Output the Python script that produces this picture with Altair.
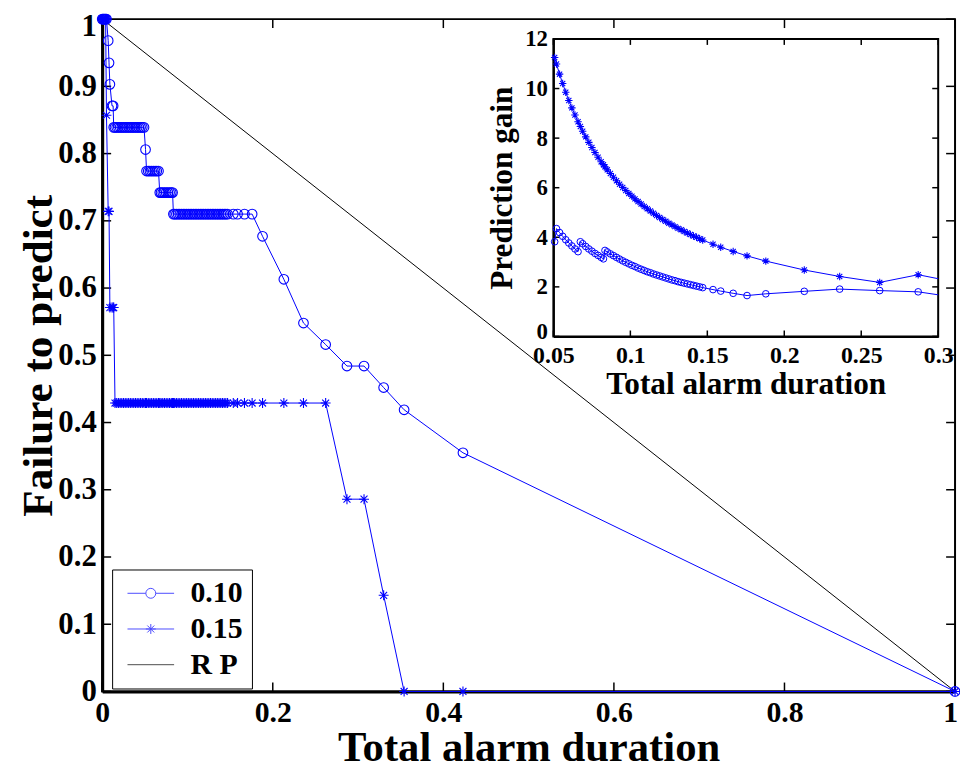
import altair as alt
import pandas as pd

# ---------------- data ----------------
alarm = [
    0.000, 0.001, 0.002, 0.003, 0.004, 0.005, 0.007, 0.008, 0.009, 0.0115, 0.0128, 0.0135,
    0.015, 0.017, 0.019, 0.021, 0.023, 0.025, 0.027, 0.029, 0.031, 0.033, 0.035, 0.037,
    0.039, 0.041, 0.043, 0.045, 0.047, 0.049,
    0.0508,
    0.052, 0.054, 0.056, 0.058, 0.060, 0.062, 0.064, 0.066,
    0.0675, 0.069, 0.071, 0.073, 0.075, 0.077, 0.079, 0.081, 0.0825,
    0.0835, 0.085, 0.087, 0.089, 0.091, 0.093, 0.095, 0.097, 0.099, 0.101, 0.103,
    0.105, 0.107, 0.109, 0.111, 0.113, 0.115, 0.117, 0.119, 0.121, 0.123, 0.125,
    0.127, 0.129, 0.131, 0.133, 0.135, 0.137, 0.139, 0.141, 0.143, 0.145, 0.147,
    0.1537, 0.1587, 0.1668, 0.1758,
    0.188, 0.213, 0.236, 0.262, 0.287, 0.307, 0.330, 0.354, 0.423, 1.000,
]

fail_010 = [
    1, 1, 1, 1, 1, 1, 0.968, 0.935, 0.903, 0.871, 0.871, 0.839,
    0.839, 0.839, 0.839, 0.839, 0.839, 0.839, 0.839, 0.839, 0.839, 0.839, 0.839, 0.839,
    0.839, 0.839, 0.839, 0.839, 0.839, 0.839,
    0.806,
    0.774, 0.774, 0.774, 0.774, 0.774, 0.774, 0.774, 0.774,
    0.742, 0.742, 0.742, 0.742, 0.742, 0.742, 0.742, 0.742, 0.742,
    0.710, 0.710, 0.710, 0.710, 0.710, 0.710, 0.710, 0.710, 0.710, 0.710, 0.710,
    0.710, 0.710, 0.710, 0.710, 0.710, 0.710, 0.710, 0.710, 0.710, 0.710, 0.710,
    0.710, 0.710, 0.710, 0.710, 0.710, 0.710, 0.710, 0.710, 0.710, 0.710, 0.710,
    0.710, 0.710, 0.710, 0.710,
    0.677, 0.613, 0.548, 0.516, 0.484, 0.484, 0.452, 0.419, 0.355, 0.0,
]

fail_015 = [
    1, 1, 1, 1, 1, 0.857, 0.714, 0.714, 0.571, 0.571, 0.571, 0.571,
    0.429, 0.429, 0.429, 0.429, 0.429, 0.429, 0.429, 0.429, 0.429, 0.429, 0.429, 0.429,
    0.429, 0.429, 0.429, 0.429, 0.429, 0.429,
    0.429,
    0.429, 0.429, 0.429, 0.429, 0.429, 0.429, 0.429, 0.429,
    0.429, 0.429, 0.429, 0.429, 0.429, 0.429, 0.429, 0.429, 0.429,
    0.429, 0.429, 0.429, 0.429, 0.429, 0.429, 0.429, 0.429, 0.429, 0.429, 0.429,
    0.429, 0.429, 0.429, 0.429, 0.429, 0.429, 0.429, 0.429, 0.429, 0.429, 0.429,
    0.429, 0.429, 0.429, 0.429, 0.429, 0.429, 0.429, 0.429, 0.429, 0.429, 0.429,
    0.429, 0.429, 0.429, 0.429,
    0.429, 0.429, 0.429, 0.429, 0.286, 0.286, 0.143, 0.0, 0.0, 0.0,
]

rp_alarm = [0.0, 1.0]
rp_fail = [1.0, 0.0]

# inset: prediction gain over the part of the alarm grid from 0.0508 to 0.307
gain_alarm = alarm[30:91]
gain_015 = [
    11.25,
    10.99, 10.58, 10.20, 9.85, 9.52, 9.22, 8.93, 8.66,
    8.47, 8.28, 8.05, 7.83, 7.62, 7.42, 7.23, 7.05, 6.93,
    6.84, 6.72, 6.57, 6.42, 6.28, 6.14, 6.01, 5.89, 5.77, 5.66, 5.55,
    5.44, 5.34, 5.24, 5.15, 5.06, 4.97, 4.88, 4.80, 4.72, 4.65, 4.57,
    4.50, 4.43, 4.36, 4.30, 4.23, 4.17, 4.11, 4.05, 4.00, 3.94, 3.89,
    3.72, 3.60, 3.43, 3.25,
    3.04, 2.68, 2.42, 2.18, 2.49, 2.33,
]
gain_010 = [
    3.82,
    4.35, 4.19, 4.04, 3.90, 3.77, 3.65, 3.53, 3.42,
    3.82, 3.74, 3.63, 3.53, 3.44, 3.35, 3.27, 3.19, 3.13,
    3.47, 3.41, 3.33, 3.26, 3.19, 3.12, 3.05, 2.99, 2.93, 2.87, 2.82,
    2.76, 2.71, 2.66, 2.61, 2.57, 2.52, 2.48, 2.44, 2.40, 2.36, 2.32,
    2.28, 2.25, 2.21, 2.18, 2.15, 2.12, 2.09, 2.06, 2.03, 2.00, 1.97,
    1.89, 1.83, 1.74, 1.65,
    1.72, 1.82, 1.91, 1.85, 1.80, 1.68,
]

series_names = ["0.10", "0.15", "R P"]
main_x_ticks = [0, 0.2, 0.4, 0.6, 0.8, 1]
main_y_ticks = [0, 0.1, 0.2, 0.3, 0.4, 0.5, 0.6, 0.7, 0.8, 0.9, 1]
inset_x_ticks = [0.05, 0.1, 0.15, 0.2, 0.25, 0.3]
inset_y_ticks = [0, 2, 4, 6, 8, 10, 12]

# ---------------- layout / style ----------------
W, H = 860, 678
IX0, IX1 = 455, 843      # inset plot area, x pixels inside main plot
IY0, IY1 = 320, 20       # inset plot area, y pixels (bottom, top)
BLUE = "#0000ff"
FONT = "Liberation Serif"

CIRCLE = ("M1,0C1,0.5523 0.5523,1 0,1C-0.5523,1 -1,0.5523 -1,0"
          "C-1,-0.5523 -0.5523,-1 0,-1C0.5523,-1 1,-0.5523 1,0Z")
ASTER = "M-1,0L1,0M0,-1L0,1M-0.7,-0.7L0.7,0.7M-0.7,0.7L0.7,-0.7"
LEG_C = "M-4.7,0L-1,0M1,0L4.7,0" + CIRCLE
LEG_S = "M-4.7,0L4.7,0" + ASTER
LEG_L = "M-4.7,0L4.7,0"

main_df = pd.DataFrame({"alarm": alarm, "f10": fail_010, "f15": fail_015})
rp_df = pd.DataFrame({"alarm": rp_alarm, "fail": rp_fail})
inset_df = pd.DataFrame({"alarm": gain_alarm, "g10": gain_010, "g15": gain_015})


def mx():
    return alt.Scale(domain=[0, 1], nice=False, zero=False)


def my():
    return alt.Scale(domain=[0, 1], nice=False, zero=False)


def ix():
    return alt.Scale(domain=[0.05, 0.3], range=[IX0, IX1], nice=False, zero=False, clamp=True)


def iy():
    return alt.Scale(domain=[0, 12], range=[IY0, IY1], nice=False, zero=False)


common_axis = dict(ticks=False, tickSize=0, grid=False, domainColor="black",
                   labelFont=FONT, labelFontWeight="bold", labelColor="black",
                   labelOverlap=False, labelFlush=False, format="~g",
                   titleFont=FONT, titleFontWeight="bold", titleColor="black")

main_x_axis = alt.Axis(title="Total alarm duration", values=main_x_ticks, orient="bottom",
                       domainWidth=3, labelFontSize=30, labelPadding=6,
                       labelOffset={"expr": "datum.value == 1 ? -5 : 0"},
                       titleFontSize=43, titleY=70, titleBaseline="alphabetic",
                       **common_axis)
main_y_axis = alt.Axis(title="Failure to predict", values=main_y_ticks, orient="left",
                       domainWidth=3, labelFontSize=31, labelPadding=6,
                       labelOffset={"expr": "datum.value == 1 ? 8 : 0"},
                       titleFontSize=43.5, titleX=-64, titleAngle=270, titleBaseline="middle",
                       **common_axis)
inset_x_axis = alt.Axis(title="Total alarm duration", values=inset_x_ticks, orient="bottom",
                        offset=-(H - IY0), domainWidth=2, labelFontSize=24, labelPadding=7,
                        titleFontSize=31.5, titleY=58, titleBaseline="alphabetic",
                        **common_axis)
inset_y_axis = alt.Axis(title="Prediction gain", values=inset_y_ticks, orient="left",
                        offset=-IX0, domainWidth=2, labelFontSize=23, labelPadding=6,
                        labelOffset={"expr": "datum.value == 0 ? -5 : 0"},
                        titleFontSize=31.5, titleX=-51, titleAngle=270, titleBaseline="middle",
                        **common_axis)

tick_style = dict(color="black", strokeWidth=1.5)
myt = pd.DataFrame({"v": main_y_ticks})
mxt = pd.DataFrame({"v": main_x_ticks})
ixt = pd.DataFrame({"v": inset_x_ticks})
iyt = pd.DataFrame({"v": inset_y_ticks})

# ---------------- main plot ----------------
rp = alt.Chart(rp_df).mark_line(color="black", strokeWidth=1).encode(
    x=alt.X("alarm:Q", scale=mx(), axis=main_x_axis),
    y=alt.Y("fail:Q", scale=my(), axis=main_y_axis),
)
l10 = alt.Chart(main_df).mark_line(color=BLUE, strokeWidth=1).encode(
    x=alt.X("alarm:Q", scale=mx(), axis=None), y=alt.Y("f10:Q", scale=my(), axis=None))
p10 = alt.Chart(main_df).mark_point(shape="circle", filled=False, color=BLUE,
                                    size=95, strokeWidth=1.1, opacity=1).encode(
    x=alt.X("alarm:Q", scale=mx(), axis=None), y=alt.Y("f10:Q", scale=my(), axis=None))
l15 = alt.Chart(main_df).mark_line(color=BLUE, strokeWidth=1).encode(
    x=alt.X("alarm:Q", scale=mx(), axis=None), y=alt.Y("f15:Q", scale=my(), axis=None))
p15 = alt.Chart(main_df).mark_point(shape=ASTER, filled=False, color=BLUE,
                                    size=100, strokeWidth=1.1, opacity=1).encode(
    x=alt.X("alarm:Q", scale=mx(), axis=None), y=alt.Y("f15:Q", scale=my(), axis=None))

t_left = alt.Chart(myt).mark_rule(**tick_style).encode(
    y=alt.Y("v:Q", scale=my(), axis=None), x=alt.value(0), x2=alt.value(9))
t_right = alt.Chart(myt).mark_rule(**tick_style).encode(
    y=alt.Y("v:Q", scale=my(), axis=None), x=alt.value(W - 9), x2=alt.value(W))
t_bottom = alt.Chart(mxt).mark_rule(**tick_style).encode(
    x=alt.X("v:Q", scale=mx(), axis=None), y=alt.value(H - 9), y2=alt.value(H))
t_top = alt.Chart(mxt).mark_rule(**tick_style).encode(
    x=alt.X("v:Q", scale=mx(), axis=None), y=alt.value(0), y2=alt.value(9))

legend = alt.Legend(title=None, orient="none", legendX=10, legendY=555,
                    padding=9, strokeColor="black", fillColor="white",
                    labelFont=FONT, labelFontSize=30, labelFontWeight="bold",
                    labelColor="black", labelOffset=25, symbolOffset=15,
                    symbolSize=100, symbolStrokeWidth=1, rowPadding=6,
                    labelExpr="datum.label == 'R P' ? '\u00a0R P' : datum.label")
leg_df = pd.DataFrame({"s": series_names})
leg = alt.Chart(leg_df).mark_point(filled=False, size=100, strokeWidth=1).encode(
    color=alt.Color("s:N", scale=alt.Scale(domain=series_names,
                                           range=[BLUE, BLUE, "black"]), legend=legend),
    shape=alt.Shape("s:N", scale=alt.Scale(domain=series_names,
                                           range=[LEG_C, LEG_S, LEG_L]), legend=legend),
).transform_filter("false")

# ---------------- inset ----------------
frame = alt.Chart(alt.Data(values=[{}])).mark_rect(
    fill=None, stroke="black", strokeWidth=2).encode(
    x=alt.value(IX0), x2=alt.value(IX1), y=alt.value(IY1), y2=alt.value(IY0))
il15 = alt.Chart(inset_df).mark_line(color=BLUE, strokeWidth=1).encode(
    x=alt.X("alarm:Q", scale=ix(), axis=inset_x_axis),
    y=alt.Y("g15:Q", scale=iy(), axis=inset_y_axis))
ip15 = alt.Chart(inset_df).mark_point(shape=ASTER, filled=False, color=BLUE,
                                      size=56, strokeWidth=1.1, opacity=1).encode(
    x=alt.X("alarm:Q", scale=ix(), axis=None), y=alt.Y("g15:Q", scale=iy(), axis=None)
).transform_filter(alt.datum.alarm <= 0.3)
il10 = alt.Chart(inset_df).mark_line(color=BLUE, strokeWidth=1).encode(
    x=alt.X("alarm:Q", scale=ix(), axis=None), y=alt.Y("g10:Q", scale=iy(), axis=None))
ip10 = alt.Chart(inset_df).mark_point(shape="circle", filled=False, color=BLUE,
                                      size=45, strokeWidth=1, opacity=1).encode(
    x=alt.X("alarm:Q", scale=ix(), axis=None), y=alt.Y("g10:Q", scale=iy(), axis=None)
).transform_filter(alt.datum.alarm <= 0.3)
it_left = alt.Chart(iyt).mark_rule(**tick_style).encode(
    y=alt.Y("v:Q", scale=iy(), axis=None), x=alt.value(IX0), x2=alt.value(IX0 + 6))
it_right = alt.Chart(iyt).mark_rule(**tick_style).encode(
    y=alt.Y("v:Q", scale=iy(), axis=None), x=alt.value(IX1 - 6), x2=alt.value(IX1))
it_bottom = alt.Chart(ixt).mark_rule(**tick_style).encode(
    x=alt.X("v:Q", scale=ix(), axis=None), y=alt.value(IY0 - 6), y2=alt.value(IY0))
it_top = alt.Chart(ixt).mark_rule(**tick_style).encode(
    x=alt.X("v:Q", scale=ix(), axis=None), y=alt.value(IY1), y2=alt.value(IY1 + 6))

chart = alt.layer(
    t_left, t_right, t_bottom, t_top, rp, l10, p10, l15, p15, leg,
    frame, it_left, it_right, it_bottom, it_top, il15, ip15, il10, ip10,
).resolve_scale(
    x="independent", y="independent", color="independent", shape="independent"
).resolve_axis(
    x="independent", y="independent"
).properties(
    width=W, height=H,
    padding={"left": 95, "top": 8, "right": 5, "bottom": 79},
    autosize=alt.AutoSizeParams(type="none"),
    background="white",
).configure_view(stroke="black", strokeWidth=2)

chart.save("out.html", embed_options={"renderer": "svg", "actions": False})
